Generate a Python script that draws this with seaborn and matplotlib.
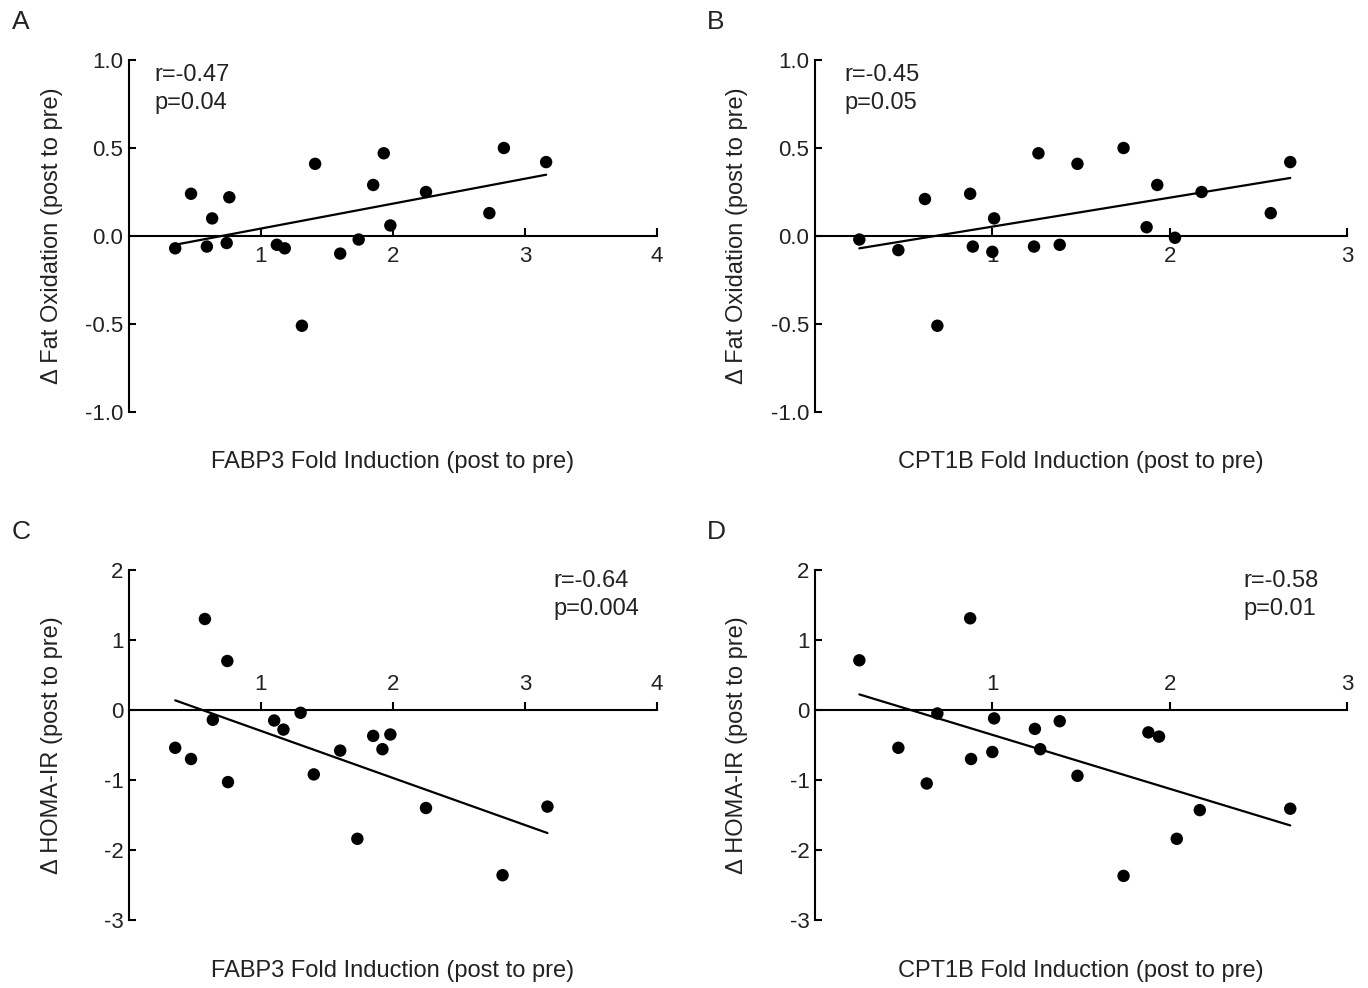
import matplotlib
matplotlib.use("Agg")
import matplotlib.pyplot as plt
import seaborn as sns
import numpy as np
import pandas as pd

# ---------------- data ----------------
fabp3_fo = [0.35, 0.47, 0.59, 0.63, 0.74, 0.76, 1.12, 1.18, 1.31, 1.41, 1.60, 1.74, 1.85, 1.93, 1.98, 2.25, 2.73, 2.84, 3.16]
fatox_a = [-0.07, 0.24, -0.06, 0.10, -0.04, 0.22, -0.05, -0.07, -0.51, 0.41, -0.10, -0.02, 0.29, 0.47, 0.06, 0.25, 0.13, 0.50, 0.42]

cpt1b_fo = [0.25, 0.47, 0.62, 0.69, 0.875, 0.89, 1.01, 1.00, 1.235, 1.26, 1.38, 1.48, 1.74, 1.87, 1.93, 2.03, 2.18, 2.57, 2.68]
fatox_b = [-0.02, -0.08, 0.21, -0.51, 0.24, -0.06, 0.10, -0.09, -0.06, 0.47, -0.05, 0.41, 0.50, 0.05, 0.29, -0.01, 0.25, 0.13, 0.42]

fabp3_homa = [0.35, 0.47, 0.575, 0.635, 0.745, 0.75, 1.10, 1.17, 1.30, 1.40, 1.60, 1.73, 1.85, 1.92, 1.98, 2.25, 2.83, 3.17]
homa_c = [-0.54, -0.70, 1.30, -0.14, 0.70, -1.03, -0.15, -0.28, -0.04, -0.92, -0.58, -1.84, -0.37, -0.56, -0.35, -1.40, -2.36, -1.38]

cpt1b_homa = [0.25, 0.47, 0.63, 0.69, 0.875, 0.88, 1.01, 1.00, 1.24, 1.27, 1.38, 1.48, 1.74, 1.88, 1.94, 2.04, 2.17, 2.68]
homa_d = [0.71, -0.54, -1.05, -0.05, 1.31, -0.70, -0.12, -0.60, -0.27, -0.56, -0.16, -0.94, -2.37, -0.32, -0.38, -1.84, -1.43, -1.41]

panel_letters = ["A", "B", "C", "D"]
r_texts = ["r=-0.47", "r=-0.45", "r=-0.64", "r=-0.58"]
p_texts = ["p=0.04", "p=0.05", "p=0.004", "p=0.01"]
x_labels = ["FABP3 Fold Induction (post to pre)", "CPT1B Fold Induction (post to pre)",
            "FABP3 Fold Induction (post to pre)", "CPT1B Fold Induction (post to pre)"]
y_labels = ["\u0394 Fat Oxidation (post to pre)", "\u0394 Fat Oxidation (post to pre)",
            "\u0394 HOMA-IR (post to pre)", "\u0394 HOMA-IR (post to pre)"]
fo_yticks = [-1.0, -0.5, 0.0, 0.5, 1.0]
fo_yticklabels = ["-1.0", "-0.5", "0.0", "0.5", "1.0"]
homa_yticks = [-3, -2, -1, 0, 1, 2]
homa_yticklabels = ["-3", "-2", "-1", "0", "1", "2"]
fabp3_xticks = [1, 2, 3, 4]
cpt1b_xticks = [1, 2, 3]

# ---------------- style ----------------
sns.set_theme(style="white")
plt.rcParams["font.family"] = ["Liberation Sans", "DejaVu Sans"]
plt.rcParams["axes.unicode_minus"] = False
TXT = "#222222"

fig = plt.figure(figsize=(13.68, 9.88), dpi=100)

W, H = 1368, 988
def rect(l, r, t, b):
    return [l / W, 1 - b / H, (r - l) / W, (b - t) / H]

axes_rects = [rect(129, 657, 60, 412), rect(815, 1347, 60, 412),
              rect(129, 657, 570, 920), rect(815, 1347, 570, 920)]

datasets = [
    (fabp3_fo, fatox_a, (0, 4), (-1, 1), fabp3_xticks, fo_yticks, fo_yticklabels),
    (cpt1b_fo, fatox_b, (0, 3), (-1, 1), cpt1b_xticks, fo_yticks, fo_yticklabels),
    (fabp3_homa, homa_c, (0, 4), (-3, 2), fabp3_xticks, homa_yticks, homa_yticklabels),
    (cpt1b_homa, homa_d, (0, 3), (-3, 2), cpt1b_xticks, homa_yticks, homa_yticklabels),
]
letter_pos = [(12, 22), (707, 22), (12, 532), (707, 532)]
stat_pos = [(0.049, 0.957, 0.878), (0.056, 0.957, 0.878),
            (0.803, 0.969, 0.889), (0.805, 0.969, 0.889)]

for i, (xs, ys, xl, yl, xt, yt, ytl) in enumerate(datasets):
    ax = fig.add_axes(axes_rects[i])
    df = pd.DataFrame({"x": xs, "y": ys})
    sns.regplot(data=df, x="x", y="y", ax=ax, ci=None, truncate=True,
                scatter_kws=dict(s=80, color="black", alpha=1, edgecolor="none",
                                 clip_on=False, zorder=3),
                line_kws=dict(color="black", lw=1.6, zorder=2))
    ax.set_xlim(*xl)
    ax.set_ylim(*yl)
    ax.set_facecolor("none")

    for sp in ["top", "right", "bottom", "left"]:
        ax.spines[sp].set_color("black")
        ax.spines[sp].set_linewidth(1.5)
    ax.spines["right"].set_visible(False)

    ax.set_yticks(yt)
    ax.set_yticklabels(ytl)
    ax.tick_params(axis="y", direction="in", length=5, width=1.5, pad=4,
                   labelsize=16, labelcolor=TXT, color="black", left=True)

    ax.set_xticks(xt)
    ax.set_xticklabels([str(v) for v in xt])
    if i < 2:
        ax.spines["top"].set_visible(False)
        ax.spines["bottom"].set_position(("data", 0))
        ax.xaxis.set_ticks_position("bottom")
        ax.tick_params(axis="x", direction="in", length=6, width=1.5, pad=7,
                       labelsize=16, labelcolor=TXT, color="black")
        ax.xaxis.set_label_coords(0.5, -0.11)
        ax.yaxis.set_label_coords(-0.125, 0.565)
    else:
        ax.spines["bottom"].set_visible(False)
        ax.spines["top"].set_position(("data", 0))
        ax.xaxis.set_ticks_position("top")
        ax.tick_params(axis="x", direction="out", length=6, width=1.5, pad=5,
                       labelsize=16, labelcolor=TXT, color="black")
        ax.xaxis.set_label_position("bottom")
        ax.xaxis.set_label_coords(0.5, -0.115)
        ax.yaxis.set_label_coords(-0.125, 0.57)

    sx, ry, py = stat_pos[i]
    ax.text(sx, ry, r_texts[i], transform=ax.transAxes, ha="left", va="center",
            fontsize=17, color=TXT)
    ax.text(sx, py, p_texts[i], transform=ax.transAxes, ha="left", va="center",
            fontsize=17, color=TXT)

    ax.set_xlabel(x_labels[i], fontsize=17, color=TXT, va="top")
    ax.set_ylabel(y_labels[i], fontsize=17, color=TXT)

    lx, ly = letter_pos[i]
    fig.text(lx / W, 1 - ly / H, panel_letters[i], fontsize=19, color=TXT, ha="left", va="center")

fig.savefig("out.png", dpi=100)
